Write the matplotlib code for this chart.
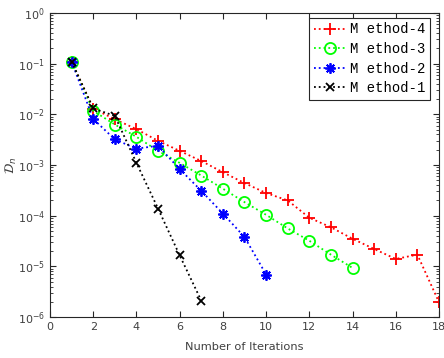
import matplotlib
matplotlib.use("Agg")
import matplotlib.pyplot as plt
from matplotlib.ticker import LogLocator, NullFormatter

iters4 = list(range(1, 19))
m4 = [0.11, 0.013, 0.008, 0.0051, 0.003, 0.0019, 0.0012, 0.00072, 0.00044,
      0.00028, 0.0002, 9.1e-5, 5.9e-5, 3.5e-5, 2.2e-5, 1.4e-5, 1.7e-5, 1.96e-6]
iters3 = list(range(1, 15))
m3 = [0.11, 0.0117, 0.0063, 0.0036, 0.0019, 0.0011, 0.00062, 0.00034,
      0.000185, 0.000104, 5.6e-5, 3.2e-5, 1.7e-5, 9.3e-6]
iters2 = list(range(1, 11))
m2 = [0.11, 0.0081, 0.0032, 0.0021, 0.0024, 0.00083, 0.00031, 0.00011,
      3.8e-5, 6.9e-6]
iters1 = list(range(1, 8))
m1 = [0.11, 0.0131, 0.0093, 0.0011, 0.000138, 1.65e-5, 2.1e-6]

labels = ['M ethod-4', 'M ethod-3', 'M ethod-2', 'M ethod-1']

gray = '#404040'
fig = plt.figure(figsize=(4.44, 3.58), dpi=100)
ax = fig.add_axes([0.1126, 0.1145, 0.8761, 0.8492])

ax.plot(iters4, m4, ':', color='red', marker='+', ms=8, mew=1.3, lw=1.3, label=labels[0])
ax.plot(iters3, m3, ':', color=(0, 1, 0), marker='o', ms=8, mfc='none', mew=1.3, lw=1.3, label=labels[1])
ax.plot(iters2, m2, ':', color='blue', marker=(8, 2, 0), ms=7.5, mew=1.3, lw=1.3, label=labels[2])
ax.plot(iters1, m1, ':', color='black', marker='x', ms=6, mew=1.3, lw=1.3, label=labels[3])

ax.set_yscale('log')
ax.set_xlim(0, 18)
ax.set_ylim(1e-6, 1)
ax.set_xticks(range(0, 19, 2))
ax.yaxis.set_major_locator(LogLocator(base=10, numticks=10))
ax.yaxis.set_minor_locator(LogLocator(base=10, subs=range(2, 10), numticks=20))
ax.yaxis.set_minor_formatter(NullFormatter())
ax.tick_params(which='both', direction='in', top=True, right=True, labelsize=8, labelcolor=gray, color='#262626')
ax.tick_params(which='major', length=4)
ax.tick_params(which='minor', length=2)
for s in ax.spines.values():
    s.set_color('#262626')
    s.set_linewidth(0.8)

ax.set_xlabel('Number of Iterations', fontsize=8.2, color=gray, labelpad=7)
ax.set_ylabel(r'$\mathcal{D}_n$', fontsize=9, color=gray, labelpad=-1)

leg = ax.legend(loc='upper right', bbox_to_anchor=(0.977, 0.985),
                prop={'family': 'Liberation Mono', 'size': 10},
                fancybox=False, framealpha=1, edgecolor='#262626',
                handlelength=2.3, borderpad=0.35, labelspacing=0.4,
                handletextpad=0.3, borderaxespad=0)
leg.get_frame().set_linewidth(0.8)

fig.savefig('out.png', dpi=100)
